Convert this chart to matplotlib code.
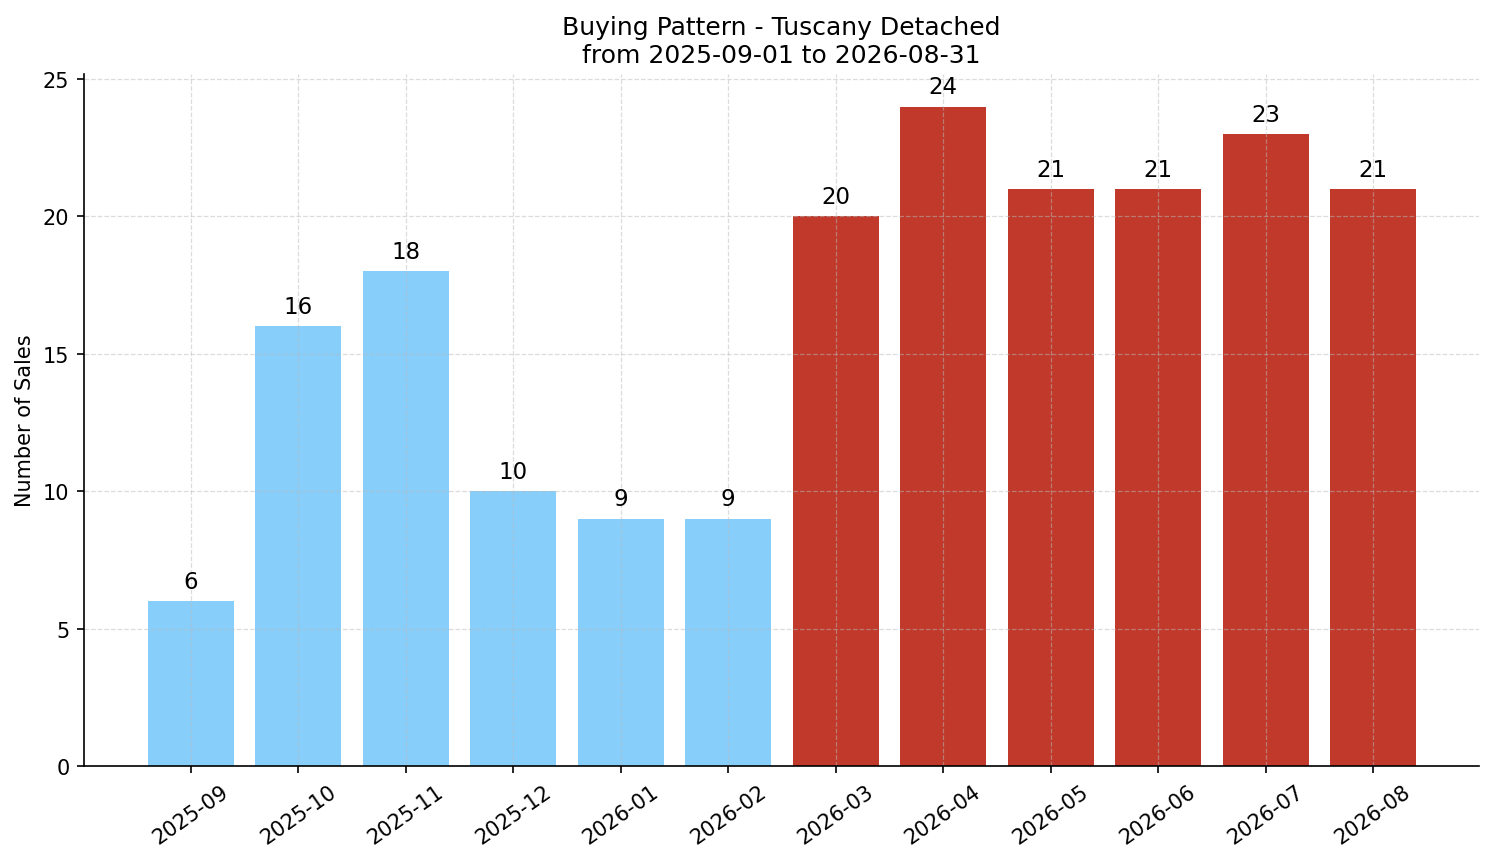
import matplotlib
matplotlib.use("Agg")
import matplotlib.pyplot as plt

months = ["2025-09", "2025-10", "2025-11", "2025-12", "2026-01", "2026-02",
          "2026-03", "2026-04", "2026-05", "2026-06", "2026-07", "2026-08"]
sales = [6, 16, 18, 10, 9, 9, 20, 24, 21, 21, 23, 21]
colors = ["#87CEFA"] * 6 + ["#C0392B"] * 6

fig, ax = plt.subplots(figsize=(9.96, 5.753), dpi=150)
bars = ax.bar(months, sales, color=colors, width=0.8)
for b, v in zip(bars, sales):
    ax.annotate(str(v), (b.get_x() + b.get_width() / 2, v), xytext=(0, 4),
                textcoords="offset points", ha="center", va="bottom", fontsize=11)
ax.set_title("Buying Pattern - Tuscany Detached\nfrom 2025-09-01 to 2026-08-31", fontsize=12)
ax.set_ylabel("Number of Sales")
ax.grid(True, linestyle="--", alpha=0.5, color="#bbbbbb", linewidth=0.6)
ax.spines["top"].set_visible(False)
ax.spines["right"].set_visible(False)
plt.xticks(rotation=35)
ax.set_xlim(-0.996, 11.987)
ax.set_ylim(0, 25.18)
fig.subplots_adjust(left=0.0562, right=0.99, top=0.913, bottom=0.1112)
fig.savefig("out.png", dpi=150)
